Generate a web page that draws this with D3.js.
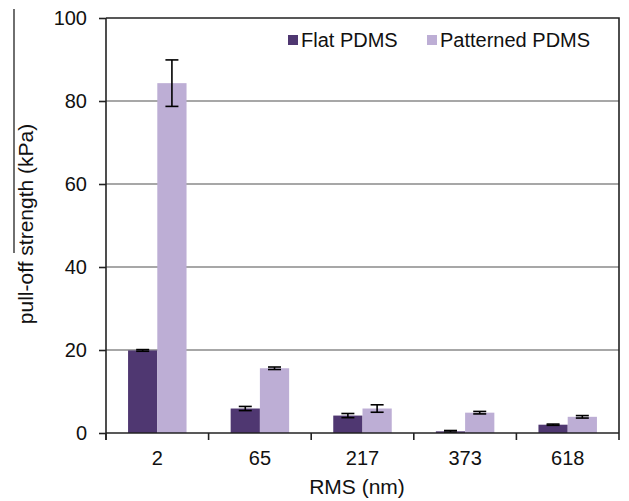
<!DOCTYPE html>
<html>
<head>
<meta charset="utf-8">
<script src="https://cdn.jsdelivr.net/npm/d3@7"></script>
<style>
  body { margin: 0; background: #fff; }
  text { font-family: "Liberation Sans", Arial, sans-serif; fill: #111; }
</style>
</head>
<body>
<div id="chart"></div>
<script>
// data
var categories = ["2", "65", "217", "373", "618"];
var seriesNames = ["Flat PDMS", "Patterned PDMS"];
var flatValues = [19.9, 5.9, 4.2, 0.4, 2.0];
var flatErrors = [0.2, 0.5, 0.5, 0.2, 0.15];
var patternedValues = [84.3, 15.6, 5.9, 4.9, 3.9];
var patternedErrors = [5.6, 0.3, 0.9, 0.3, 0.3];
var yTicks = [0, 20, 40, 60, 80, 100];

var colors = { "Flat PDMS": "#4f3771", "Patterned PDMS": "#bdaed5" };

var margin = { top: 18, right: 10, bottom: 68, left: 106 };
var width = 629 - margin.left - margin.right;
var height = 501 - margin.top - margin.bottom;

var svg = d3.select("#chart").append("svg")
    .attr("width", 629)
    .attr("height", 501);

// stray frame line on the left edge of the original figure
svg.append("line")
    .attr("x1", 14).attr("x2", 14)
    .attr("y1", 9).attr("y2", 253)
    .attr("stroke", "#222").attr("stroke-width", 1.3);

var g = svg.append("g")
    .attr("transform", "translate(" + margin.left + "," + margin.top + ")");

var x0 = d3.scaleBand()
    .domain(categories)
    .range([0, width])
    .padding(0);

var x1 = d3.scaleBand()
    .domain(seriesNames)
    .range([x0.bandwidth() * 0.215, x0.bandwidth() * 0.785]);

var y = d3.scaleLinear()
    .domain([0, 100])
    .range([height, 0]);

// gridlines
g.selectAll(".grid")
    .data(yTicks.filter(function(d) { return d > 0 && d < 100; }))
    .enter().append("line")
    .attr("class", "grid")
    .attr("x1", 0).attr("x2", width)
    .attr("y1", function(d) { return y(d); })
    .attr("y2", function(d) { return y(d); })
    .attr("stroke", "#8a8a8a")
    .attr("stroke-width", 1.5);

// frame top/right
g.append("path")
    .attr("d", "M0," + y(100) + "H" + width + "V" + height)
    .attr("fill", "none")
    .attr("stroke", "#222")
    .attr("stroke-width", 1.6);

var rows = categories.map(function(c, i) {
    return [
        { cat: c, key: "Flat PDMS", value: flatValues[i], err: flatErrors[i] },
        { cat: c, key: "Patterned PDMS", value: patternedValues[i], err: patternedErrors[i] }
    ];
});

var groups = g.selectAll(".group")
    .data(rows)
    .enter().append("g")
    .attr("class", "group")
    .attr("transform", function(d) { return "translate(" + x0(d[0].cat) + ",0)"; });

groups.selectAll("rect")
    .data(function(d) { return d; })
    .enter().append("rect")
    .attr("x", function(d) { return x1(d.key); })
    .attr("y", function(d) { return y(d.value); })
    .attr("width", x1.bandwidth())
    .attr("height", function(d) { return height - y(d.value); })
    .attr("fill", function(d) { return colors[d.key]; });

// error bars
var cap = 6.5;
var eb = groups.selectAll(".err")
    .data(function(d) { return d; })
    .enter().append("g")
    .attr("class", "err")
    .attr("stroke", "#000")
    .attr("stroke-width", 1.6);

eb.append("line")
    .attr("x1", function(d) { return x1(d.key) + x1.bandwidth() / 2; })
    .attr("x2", function(d) { return x1(d.key) + x1.bandwidth() / 2; })
    .attr("y1", function(d) { return y(d.value + d.err); })
    .attr("y2", function(d) { return y(d.value - d.err); });
eb.append("line")
    .attr("x1", function(d) { return x1(d.key) + x1.bandwidth() / 2 - cap; })
    .attr("x2", function(d) { return x1(d.key) + x1.bandwidth() / 2 + cap; })
    .attr("y1", function(d) { return y(d.value + d.err); })
    .attr("y2", function(d) { return y(d.value + d.err); });
eb.append("line")
    .attr("x1", function(d) { return x1(d.key) + x1.bandwidth() / 2 - cap; })
    .attr("x2", function(d) { return x1(d.key) + x1.bandwidth() / 2 + cap; })
    .attr("y1", function(d) { return y(d.value - d.err); })
    .attr("y2", function(d) { return y(d.value - d.err); });

// y axis
var yAxis = d3.axisLeft(y)
    .tickValues(yTicks)
    .tickSize(7)
    .tickPadding(12);

var yAxisGroup = g.append("g")
    .attr("class", "y-axis")
    .call(yAxis);
yAxisGroup.select(".domain").remove();
yAxisGroup.selectAll("line").attr("stroke", "#222").attr("stroke-width", 1.6);
yAxisGroup.selectAll("text").style("font-size", "20px");

g.append("line")
    .attr("x1", 0).attr("x2", 0)
    .attr("y1", y(100)).attr("y2", height + 7)
    .attr("stroke", "#222").attr("stroke-width", 1.6);

// x axis
var xAxis = d3.axisBottom(x0).tickSize(0).tickPadding(18);
var xAxisGroup = g.append("g")
    .attr("class", "x-axis")
    .attr("transform", "translate(0," + height + ")")
    .call(xAxis);
xAxisGroup.select(".domain")
    .attr("d", "M0,0H" + width)
    .attr("stroke", "#222").attr("stroke-width", 1.6);
xAxisGroup.selectAll("text").style("font-size", "20px");

// tick marks at group boundaries
xAxisGroup.selectAll(".bound")
    .data(categories.concat(["end"]))
    .enter().append("line")
    .attr("class", "bound")
    .attr("x1", function(d, i) { return i * x0.step(); })
    .attr("x2", function(d, i) { return i * x0.step(); })
    .attr("y1", 0).attr("y2", 7)
    .attr("stroke", "#222").attr("stroke-width", 1.6);

// axis titles
svg.append("text")
    .attr("x", 357)
    .attr("y", 494)
    .attr("text-anchor", "middle")
    .style("font-size", "21px")
    .text("RMS (nm)");

svg.append("text")
    .attr("transform", "translate(33," + 224 + ") rotate(-90)")
    .attr("text-anchor", "middle")
    .style("font-size", "21px")
    .text("pull-off strength (kPa)");

// legend
var legendX = [288, 427];
var legend = svg.selectAll(".legend")
    .data(seriesNames)
    .enter().append("g")
    .attr("class", "legend")
    .attr("transform", function(d, i) { return "translate(" + legendX[i] + ",40)"; });
legend.append("rect")
    .attr("x", 0).attr("y", -5)
    .attr("width", 10).attr("height", 10)
    .attr("fill", function(d) { return colors[d]; });
legend.append("text")
    .attr("x", 13)
    .attr("y", 7)
    .style("font-size", "20px")
    .text(function(d) { return d; });
</script>
</body>
</html>
